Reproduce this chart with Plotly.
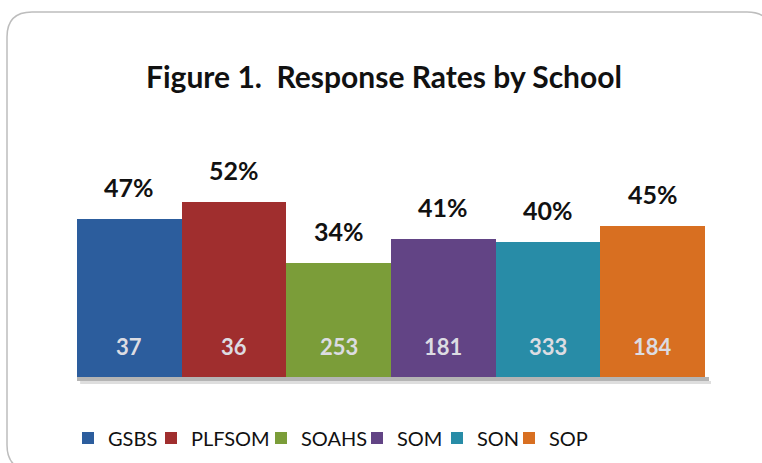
import plotly.graph_objects as go

schools = ["GSBS", "PLFSOM", "SOAHS", "SOM", "SON", "SOP"]
rates = [0.47, 0.52, 0.34, 0.41, 0.40, 0.45]
counts = [37, 36, 253, 181, 333, 184]
colors = ["#2C5D9D", "#A02E2E", "#7B9D39", "#624485", "#288CA7", "#D86F21"]

W, H = 762, 463
L, R, T, B = 77, 57, 175, 86
pw, ph = W - L - R, H - T - B

def px(x):
    return (x - L) / pw

def py(y):
    return (H - B - y) / ph

# text start positions of the legend entries (pixels, from the reference layout)
legend_text_x = [104, 187, 297, 393, 473, 545]

fig = go.Figure()
for i, (s, r, c) in enumerate(zip(schools, rates, colors)):
    lg = "legend" if i == 0 else f"legend{i+1}"
    fig.add_trace(go.Bar(x=[s], y=[r], name=s, marker=dict(color=c, line=dict(width=0)),
                         hoverinfo="skip", legend=lg))

for s, r, n in zip(schools, rates, counts):
    fig.add_annotation(x=s, y=r, text=f"{round(r*100)}%", showarrow=False,
                       yanchor="bottom", yshift=15,
                       font=dict(family="Lato", size=25, color="#111111", weight="bold"))
    fig.add_annotation(x=s, y=0, text=str(n), showarrow=False,
                       yanchor="middle", yshift=31,
                       font=dict(family="Lato", size=22, color="#DCDCE2", weight="bold"))

# soft shadow under the bars
fig.add_shape(type="rect", xref="paper", yref="paper", x0=0, x1=px(709),
              y0=py(381), y1=0, fillcolor="#B4B4B4", line=dict(width=0), layer="below")
fig.add_shape(type="rect", xref="paper", yref="paper", x0=0.005, x1=px(711),
              y0=py(384), y1=py(381), fillcolor="#DEDEDE", line=dict(width=0), layer="below")
fig.add_shape(type="rect", xref="x", yref="y", x0=5.5, x1=5.5 + 5 / (pw / 6),
              y0=0, y1=rates[-1] * 0.97, fillcolor="#D4D4D4", line=dict(width=0), layer="below")

# rounded outer border
x0, x1 = px(7), px(772)
y0, y1 = py(12), py(470)
rx, ry = 25 / pw, 25 / ph
path = (f"M {x0+rx},{y0} L {x1-rx},{y0} Q {x1},{y0} {x1},{y0-ry} "
        f"L {x1},{y1+ry} Q {x1},{y1} {x1-rx},{y1} L {x0+rx},{y1} "
        f"Q {x0},{y1} {x0},{y1+ry} L {x0},{y0-ry} Q {x0},{y0} {x0+rx},{y0} Z")
fig.add_shape(type="path", path=path, xref="paper", yref="paper",
              line=dict(color="#BDBDBD", width=1.5), layer="below")

legend_common = dict(orientation="h", xref="container", yref="container",
                     xanchor="left", yanchor="middle", y=1 - 438 / H,
                     font=dict(family="Lato", size=20, color="#111111"),
                     bgcolor="rgba(0,0,0,0)", itemwidth=30)
legends = {}
for i, tx in enumerate(legend_text_x):
    key = "legend" if i == 0 else f"legend{i+1}"
    legends[key] = dict(legend_common, x=(tx - 36) / W)

fig.update_layout(
    width=W, height=H,
    margin=dict(l=L, r=R, t=T, b=B, autoexpand=False),
    paper_bgcolor="white", plot_bgcolor="rgba(0,0,0,0)",
    barmode="overlay", bargap=0,
    title=dict(text="<b>Figure 1.  Response Rates by School</b>",
               x=384 / W, xref="container", xanchor="center",
               y=1 - 77 / H, yref="container", yanchor="middle",
               font=dict(family="Lato", size=30, color="#111111")),
    xaxis=dict(range=[-0.5, 5.5], showticklabels=False, showgrid=False,
               zeroline=False, showline=False, ticks=""),
    yaxis=dict(range=[0, 0.6], showticklabels=False, showgrid=False,
               zeroline=False, showline=False, ticks=""),
    showlegend=True,
    **legends,
)

fig.write_html("out.html")
